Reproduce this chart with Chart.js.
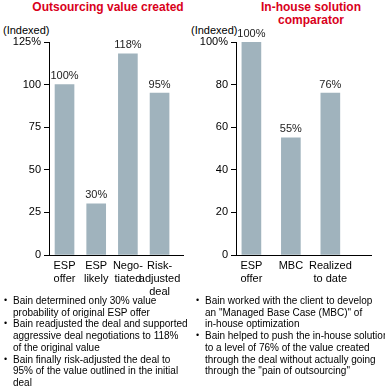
<!DOCTYPE html>
<html>
<head>
<meta charset="utf-8">
<script src="https://cdn.jsdelivr.net/npm/chart.js@4.4.0/dist/chart.umd.min.js"></script>
<style>
  body { margin: 0; background: #fff; font-family: Arial, "Liberation Sans", sans-serif; }
  #page { position: relative; width: 385px; height: 390px; overflow: hidden; }
  .title { position: absolute; color: #d9001b; font-weight: bold; font-size: 12px; line-height: 13px; text-align: center; }
  .unit { position: absolute; font-size: 11px; color: #000; }
  .box { position: absolute; }
  ul { position: absolute; margin: 0; padding: 0; list-style: none; font-size: 10px; line-height: 11.7px; color: #000; white-space: nowrap; }
  li { position: relative; padding-left: 9px; }
  li:before { content: "\2022"; position: absolute; left: 0; top: 0; font-size: 9px; }
</style>
</head>
<body>
<div id="page">
  <div class="title" style="left:20px; top:1px; width:176px;">Outsourcing value created</div>
  <div class="title" style="left:240px; top:1px; width:142px;">In-house solution<br>comparator</div>
  <div class="unit" style="left:3px; top:24px;">(Indexed)</div>
  <div class="unit" style="left:191px; top:24px;">(Indexed)</div>
  <div class="box" style="left:0; top:0; width:192px; height:300px;"><canvas id="leftChart"></canvas></div>
  <div class="box" style="left:192px; top:0; width:193px; height:300px;"><canvas id="rightChart"></canvas></div>
  <ul style="left:4px; top:295px;">
    <li>Bain determined only 30% value<br>probability of original ESP offer</li>
    <li>Bain readjusted the deal and supported<br>aggressive deal negotiations to 118%<br>of the original value</li>
    <li>Bain finally risk-adjusted the deal to<br>95% of the value outlined in the initial<br>deal</li>
  </ul>
  <ul style="left:196px; top:295px;">
    <li>Bain worked with the client to develop<br>an "Managed Base Case (MBC)" of<br>in-house optimization</li>
    <li>Bain helped to push the in-house solution<br>to a level of 76% of the value created<br>through the deal without actually going<br>through the "pain of outsourcing"</li>
  </ul>
</div>
<script>
// data
const leftLabels = [["ESP", "offer"], ["ESP", "likely"], ["Nego-", "tiated"], ["Risk-", "adjusted", "deal"]];
const leftValues = [100, 30, 118, 95];
const leftTicks = [0, 25, 50, 75, 100, 125];

const rightLabels = [["ESP", "offer"], "MBC", ["Realized", "to date"]];
const rightValues = [100, 55, 76];
const rightTicks = [0, 20, 40, 60, 80, 100];

const barColor = "#a0b3bd";

// value labels on top of bars
const valueLabels = {
  id: "valueLabels",
  afterDatasetsDraw(chart) {
    const ctx = chart.ctx;
    ctx.save();
    ctx.font = "11px Arial, 'Liberation Sans', sans-serif";
    ctx.fillStyle = "#222";
    ctx.textAlign = "center";
    ctx.textBaseline = "bottom";
    chart.getDatasetMeta(0).data.forEach((bar, i) => {
      ctx.fillText(chart.data.datasets[0].data[i].y + "%", bar.x, bar.y - 3);
    });
    ctx.restore();
  },
};

function makeChart(id, labels, values, ticks, xMin, xMax, yWidth, rightPad) {
  const top = ticks[ticks.length - 1];
  return new Chart(document.getElementById(id), {
    type: "bar",
    data: {
      datasets: [{
        data: values.map((v, i) => ({ x: i, y: v })),
        backgroundColor: barColor,
        barThickness: 19,
      }],
    },
    options: {
      responsive: true,
      maintainAspectRatio: false,
      animation: false,
      layout: { padding: { top: 42, right: rightPad, left: 0, bottom: 0 } },
      plugins: { legend: { display: false }, tooltip: { enabled: false } },
      scales: {
        x: {
          type: "linear",
          offset: false,
          min: xMin,
          max: xMax,
          afterBuildTicks: (scale) => { scale.ticks = labels.map((_, i) => ({ value: i })); },
          afterFit: (scale) => { scale.height = 45; },
          grid: { display: false, drawTicks: false },
          border: { color: "#000", width: 1 },
          ticks: {
            autoSkip: false,
            maxRotation: 0,
            padding: 4,
            color: "#000",
            font: { family: "Arial, 'Liberation Sans', sans-serif", size: 11 },
            callback: (value) => labels[value],
          },
        },
        y: {
          min: 0,
          max: top,
          afterBuildTicks: (scale) => { scale.ticks = ticks.map((t) => ({ value: t })); },
          afterFit: (scale) => { scale.width = yWidth; },
          grid: { drawOnChartArea: false, tickLength: 5, tickColor: "#000" },
          border: { color: "#000", width: 1 },
          ticks: {
            padding: 3,
            color: "#000",
            font: { family: "Arial, 'Liberation Sans', sans-serif", size: 11 },
            callback: (value) => (value === top ? value + "%" : value),
          },
        },
      },
    },
    plugins: [valueLabels],
  });
}

const leftChart = makeChart("leftChart", leftLabels, leftValues, leftTicks, -0.49, 3.74, 49, 9);
const rightChart = makeChart("rightChart", rightLabels, rightValues, rightTicks, -0.39, 3.03, 44, 14);
</script>
</body>
</html>
